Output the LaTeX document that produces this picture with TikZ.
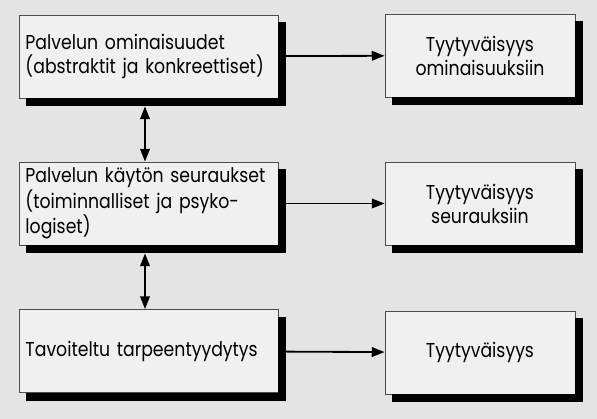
\documentclass[tikz,border=0pt]{standalone}
\usepackage{fontspec}
\setmainfont{Poppins}[FakeStretch=0.86]
\usetikzlibrary{arrows.meta}
\definecolor{paper}{HTML}{E4E4E4}
\definecolor{boxfill}{HTML}{F0F0F0}
% thick dark edge along the right and lower side of a box
\newcommand{\boxshadow}[1]{\draw[black, line width=0.19cm, miter limit=4] ([xshift=0.095cm, yshift=-0.19cm]#1.north east) -- ([xshift=0.095cm, yshift=-0.095cm]#1.south east) -- ([xshift=0.19cm, yshift=-0.095cm]#1.south west);}
\begin{document}
\begin{tikzpicture}[x=0.025cm, y=-0.025cm, >={Triangle[length=0.32cm, width=0.24cm]},
	every node/.style = {font=\fontsize{14.3}{17}\selectfont},
	main/.style = {draw=black!70, line width=0.6pt, fill=boxfill, minimum width=6.475cm, minimum height=2.075cm, text width=6.15cm, align=left},
	sat/.style = {draw=black!70, line width=0.6pt, fill=boxfill, minimum width=4.75cm, minimum height=2.075cm, align=center}]
	\fill[paper] (0,0) rectangle (597,419);
	\useasboundingbox (0,0) rectangle (597,419);
	
	\node[main] (1) at (148.5,56.5) {Palvelun ominaisuudet\\(abstraktit ja konkreettiset)};
	\node[main] (2) at (148.5,203.5) {Palvelun käytön seuraukset\\(toiminnalliset ja psyko-\\logiset)};
	\node[main] (3) at (148.5,351) {Tavoiteltu tarpeentyydytys};
	
	\node[sat] (4) at (480,55.5) {Tyytyväisyys\\ominaisuuksiin};
	\node[sat] (5) at (480,203.5) {Tyytyväisyys\\seurauksiin};
	\node[sat] (6) at (480,352.5) {Tyytyväisyys};
	
	\boxshadow{1}
	\boxshadow{2}
	\boxshadow{3}
	\boxshadow{4}
	\boxshadow{5}
	\boxshadow{6}
	
	\draw[->, line width=1.3pt] (1) -- (4);
	\draw[->, line width=1.3pt] (2) -- (5);
	\draw[->, line width=1.3pt] (3) -- (6);
	
	\draw[<->, line width=1.3pt, shorten <=0.2cm] ([xshift=-2.5]1.south) -- ([xshift=-2.5]2.north);
	\draw[<->, line width=1.3pt, shorten <=0.2cm] ([xshift=-2.5]2.south) -- ([xshift=-2.5]3.north);
	
\end{tikzpicture}
\end{document}
